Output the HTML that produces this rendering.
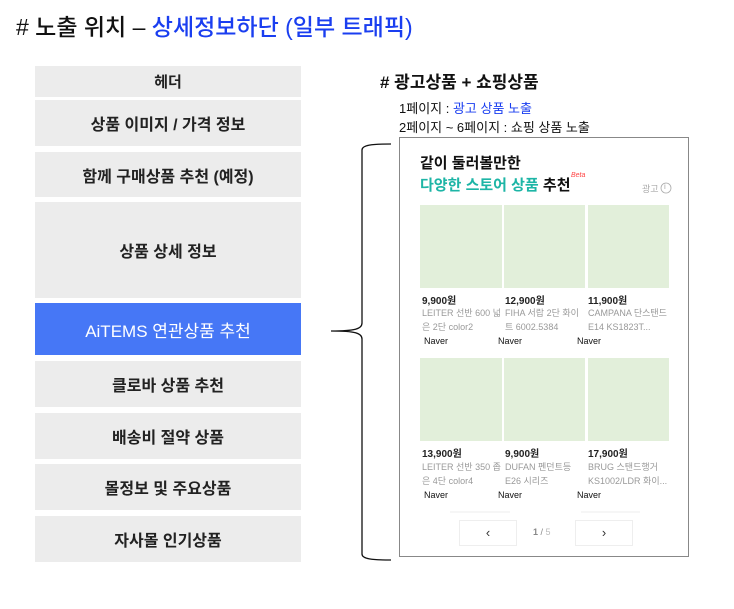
<!DOCTYPE html>
<html><head><meta charset="utf-8"><style>
*{margin:0;padding:0;box-sizing:border-box}
body{width:734px;height:609px;background:#fff;position:relative;overflow:hidden;font-family:"Liberation Sans","Noto Sans CJK KR",sans-serif;color:#111}
.a{position:absolute;white-space:nowrap}
.bx{position:absolute;left:35px;width:266px;background:#ececec;display:flex;align-items:center;justify-content:center;font-size:16px;font-weight:bold;color:#222}
.img{position:absolute;background:#e2efda;width:82px;height:83px}
.pr{font-size:10px;font-weight:bold;color:#222}
.ds{font-size:9px;color:#999;line-height:14px}
.nv{font-size:9px;color:#111}
.btn{position:absolute;top:520px;width:58px;height:26px;border:1px solid #eee;background:#fff;font-size:13px;text-align:center;line-height:24px;color:#333}
</style></head><body>
<div class="a" style="left:16px;top:8px;font-size:23px;font-weight:500">#&nbsp;노출 위치 – <span style="color:#1a3ef0">상세정보하단 (일부 트래픽)</span></div>

<div class="bx" style="top:66px;height:31px;font-size:15px">헤더</div>
<div class="bx" style="top:100px;height:46px">상품 이미지 / 가격 정보</div>
<div class="bx" style="top:152px;height:45px">함께 구매상품 추천 (예정)</div>
<div class="bx" style="top:202px;height:96px">상품 상세 정보</div>
<div class="bx" style="top:303px;height:52px;background:#4677f6;color:#fff;font-weight:normal;font-size:17px">AiTEMS 연관상품 추천</div>
<div class="bx" style="top:361px;height:46px">클로바 상품 추천</div>
<div class="bx" style="top:413px;height:46px">배송비 절약 상품</div>
<div class="bx" style="top:464px;height:46px">몰정보 및 주요상품</div>
<div class="bx" style="top:516px;height:46px">자사몰 인기상품</div>

<div class="a" style="left:380px;top:68px;font-size:17px;font-weight:bold">#&nbsp;광고상품 + 쇼핑상품</div>
<div class="a" style="left:399px;top:98px;font-size:13px">1페이지 : <span style="color:#1a3ef0">광고 상품 노출</span></div>
<div class="a" style="left:399px;top:117px;font-size:13px">2페이지 ~ 6페이지 : 쇼핑 상품 노출</div>

<svg class="a" style="left:0;top:0" width="734" height="609">
<path d="M391 144 C372 144 362 145 362 150 L362 323 C362 329 355 331 331 331 C355 331 362 333 362 339 L362 554 C362 559 372 560 391 560" fill="none" stroke="#111" stroke-width="1.3"/>
<rect x="399.5" y="137.5" width="289" height="419" fill="none" stroke="#888" stroke-width="1"/>
<circle cx="666" cy="188" r="5" fill="none" stroke="#aaa" stroke-width="0.8"/>
<line x1="450" y1="512" x2="510" y2="512" stroke="#eee"/>
<line x1="581" y1="512" x2="640" y2="512" stroke="#eee"/>
</svg>

<div class="a" style="left:420px;top:152px;font-size:15px;font-weight:bold">같이 둘러볼만한</div>
<div class="a" style="left:420px;top:174px;font-size:15px;font-weight:bold"><span style="color:#1db5a6">다양한 스토어 상품</span> 추천</div>
<div class="a" style="left:571px;top:172px;font-size:7px;color:#f44;font-style:italic">Beta</div>
<div class="a" style="left:642px;top:182px;font-size:9px;color:#aaa">광고</div>
<div class="a" style="left:664px;top:182px;font-size:8px;color:#aaa">i</div>

<div class="img" style="left:420px;top:205px"></div>
<div class="img" style="left:504px;top:205px;width:81px"></div>
<div class="img" style="left:588px;top:205px;width:81px"></div>
<div class="a pr" style="left:422px;top:292px">9,900원</div>
<div class="a pr" style="left:505px;top:292px">12,900원</div>
<div class="a pr" style="left:588px;top:292px">11,900원</div>
<div class="a ds" style="left:422px;top:306px">LEITER 선반 600 넓<br>은 2단 color2</div>
<div class="a ds" style="left:505px;top:306px">FIHA 서랍 2단 화이<br>트 6002.5384</div>
<div class="a ds" style="left:588px;top:306px">CAMPANA 단스탠드<br>E14 KS1823T...</div>
<div class="a nv" style="left:424px;top:336px">Naver</div>
<div class="a nv" style="left:498px;top:336px">Naver</div>
<div class="a nv" style="left:577px;top:336px">Naver</div>

<div class="img" style="left:420px;top:358px"></div>
<div class="img" style="left:504px;top:358px;width:81px"></div>
<div class="img" style="left:588px;top:358px;width:81px"></div>
<div class="a pr" style="left:422px;top:445px">13,900원</div>
<div class="a pr" style="left:505px;top:445px">9,900원</div>
<div class="a pr" style="left:588px;top:445px">17,900원</div>
<div class="a ds" style="left:422px;top:460px">LEITER 선반 350 좁<br>은 4단 color4</div>
<div class="a ds" style="left:505px;top:460px">DUFAN 펜던트등<br>E26 시리즈</div>
<div class="a ds" style="left:588px;top:460px">BRUG 스탠드행거<br>KS1002/LDR 화이...</div>
<div class="a nv" style="left:424px;top:490px">Naver</div>
<div class="a nv" style="left:498px;top:490px">Naver</div>
<div class="a nv" style="left:577px;top:490px">Naver</div>

<div class="btn" style="left:459px">‹</div>
<div class="a" style="left:533px;top:527px;font-size:9px;color:#888"><b>1</b> / <span style="color:#bbb">5</span></div>
<div class="btn" style="left:575px">›</div>
</body></html>
